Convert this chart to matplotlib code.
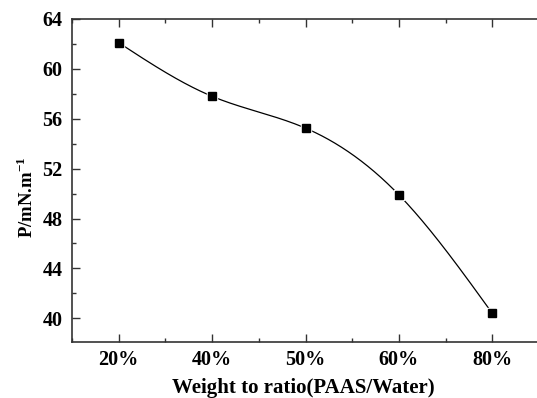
import numpy as np
import matplotlib
matplotlib.use("Agg")
import matplotlib.pyplot as plt
from matplotlib.ticker import MultipleLocator

categories = ["20%", "40%", "50%", "60%", "80%"]
values = [62.1, 57.8, 55.25, 49.9, 40.4]

plt.rcParams['font.family'] = ['Liberation Serif', 'DejaVu Serif']
plt.rcParams['font.weight'] = 'bold'
plt.rcParams['mathtext.fontset'] = 'custom'
plt.rcParams['mathtext.rm'] = 'Liberation Serif:bold'
plt.rcParams['mathtext.bf'] = 'Liberation Serif:bold'


def natural_spline(x, y, xs):
    x = np.asarray(x, float); y = np.asarray(y, float)
    n = len(x)
    h = np.diff(x)
    A = np.zeros((n, n)); b = np.zeros(n)
    A[0, 0] = 1; A[-1, -1] = 1
    for i in range(1, n - 1):
        A[i, i - 1] = h[i - 1]
        A[i, i] = 2 * (h[i - 1] + h[i])
        A[i, i + 1] = h[i]
        b[i] = 3 * ((y[i + 1] - y[i]) / h[i] - (y[i] - y[i - 1]) / h[i - 1])
    c = np.linalg.solve(A, b)
    out = np.empty_like(xs)
    for k, xv in enumerate(xs):
        i = min(max(np.searchsorted(x, xv) - 1, 0), n - 2)
        bi = (y[i + 1] - y[i]) / h[i] - h[i] * (2 * c[i] + c[i + 1]) / 3
        di = (c[i + 1] - c[i]) / (3 * h[i])
        t = xv - x[i]
        out[k] = y[i] + bi * t + c[i] * t ** 2 + di * t ** 3
    return out


fig = plt.figure(figsize=(5.37, 3.98), dpi=100)
ax = fig.add_axes([72 / 537, 1 - 342 / 398, (539 - 72) / 537, (342 - 19) / 398])

xpos = np.arange(len(categories))
xs = np.linspace(xpos[0], xpos[-1], 400)
ax.plot(xs, natural_spline(xpos, values, xs), color='black', lw=0.9, zorder=2)
ax.plot(xpos, values, linestyle='none', marker='s', markersize=6.5,
        markerfacecolor='white', markeredgecolor='white', zorder=3)
ax.plot(xpos, values, linestyle='none', marker='s', markersize=5.2,
        markerfacecolor='black', markeredgecolor='black', zorder=4)

ax.set_xlim(-0.5, 4.5)
ax.set_ylim(38.1, 64)
ax.set_xticks(xpos)
ax.set_xticklabels(categories)
ax.xaxis.set_minor_locator(MultipleLocator(0.5))
ax.set_yticks([40, 44, 48, 52, 56, 60, 64])
ax.yaxis.set_minor_locator(MultipleLocator(2))

for s in ax.spines.values():
    s.set_linewidth(1.2)
    s.set_color('#333333')
ax.spines['right'].set_visible(False)

ax.tick_params(axis='both', which='major', direction='in', length=6, width=1.0,
               labelsize=14.5, color='#333333')
ax.tick_params(axis='both', which='minor', direction='in', length=3, width=1.0,
               color='#333333')
ax.tick_params(axis='x', which='both', top=True, bottom=True, pad=6)
ax.tick_params(axis='y', which='both', left=True, right=False, pad=7)

ax.set_xlabel('Weight to ratio(PAAS/Water)', fontsize=15, fontweight='bold')
ax.set_ylabel(r'P/mN.m$^{\mathbf{-1}}$', fontsize=13.5, fontweight='bold')
ax.xaxis.set_label_coords(0.495, -0.11)
ax.yaxis.set_label_coords(-0.076, 0.449)

fig.savefig('out.png', dpi=100)
